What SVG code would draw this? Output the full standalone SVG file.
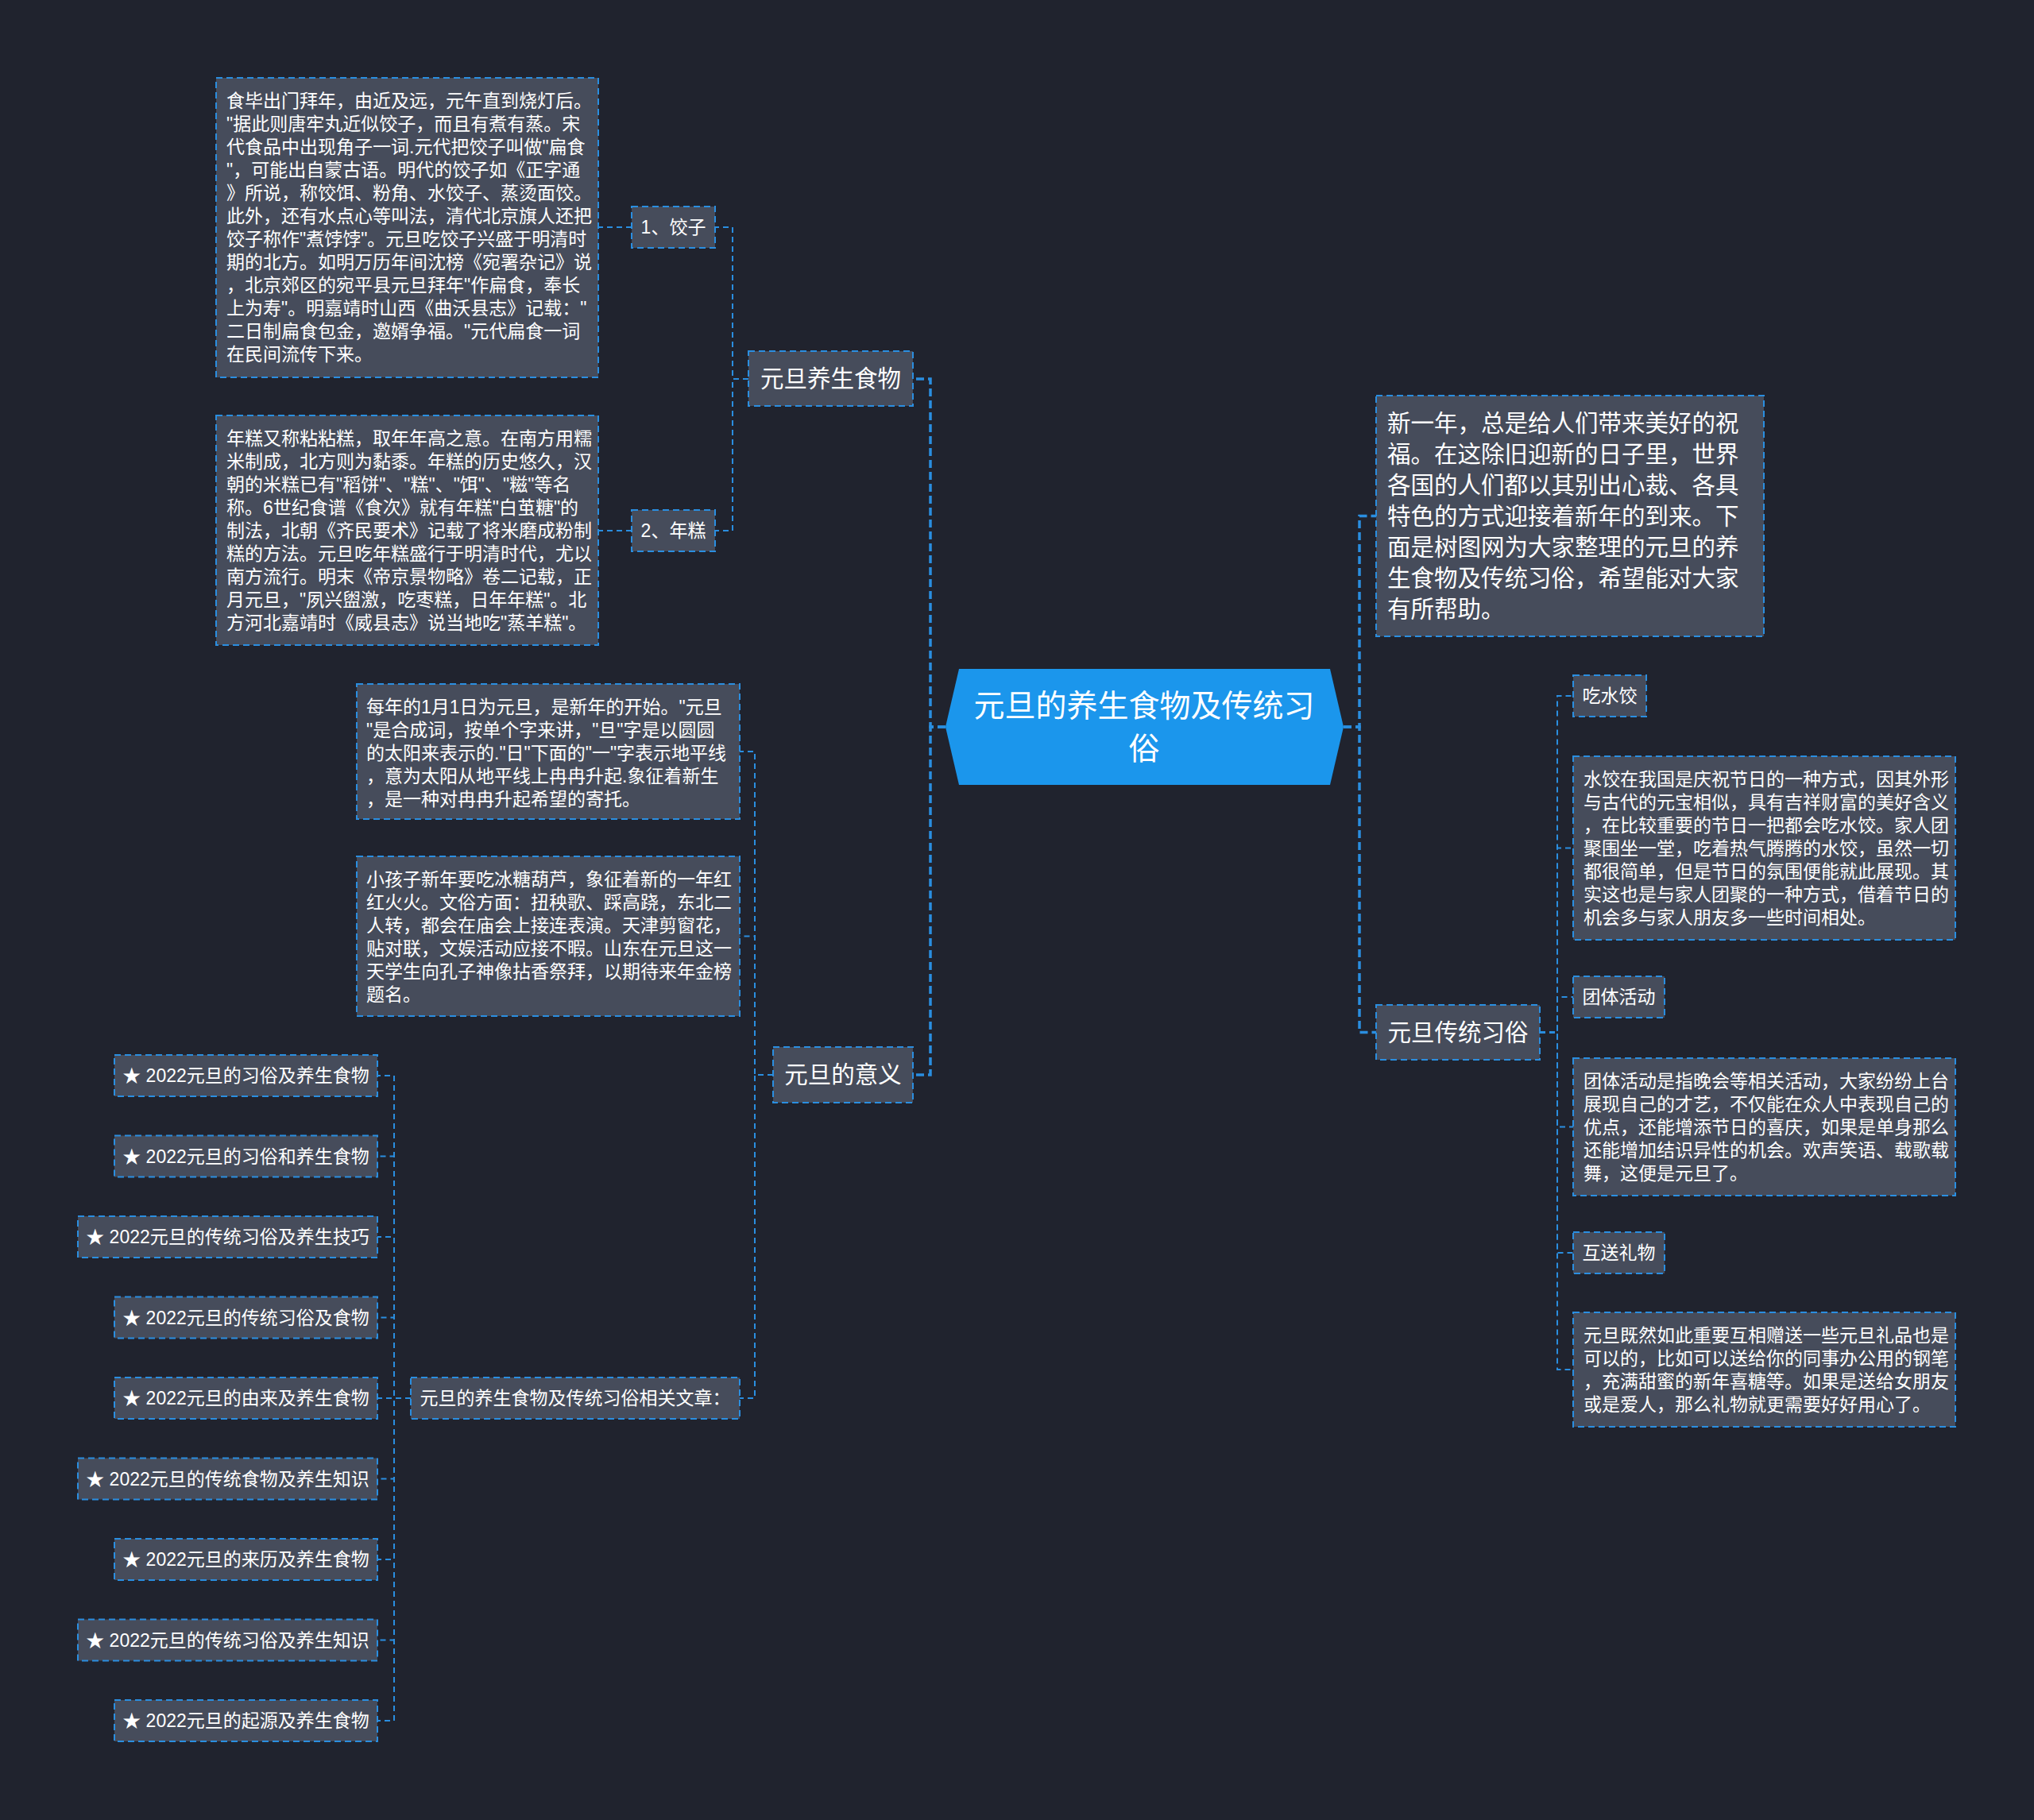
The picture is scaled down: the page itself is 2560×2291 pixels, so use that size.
<svg xmlns="http://www.w3.org/2000/svg" width="2560" height="2291" viewBox="0 0 2560 2291">
<defs>
<style>
.node{fill:#464c5b;stroke:#2a8ee0;stroke-width:2;stroke-dasharray:8 5}
.t{font-family:"Liberation Sans","Noto Sans CJK SC",sans-serif;fill:#ffffff}
.s22{font-size:23px}
.s29{font-size:29.5px}
.s38{font-size:39px}
.c{text-anchor:middle}
.main{fill:none;stroke:#2a8ee0;stroke-width:3.5;stroke-dasharray:10 5}
.sub{fill:none;stroke:#2a8ee0;stroke-width:2;stroke-dasharray:7 5}
</style>
</defs>
<rect x="0" y="0" width="2560" height="2291" fill="#20232e"/>

<g id="connectors">
<path class="main" d="M1190,915 H1171 V477 H1149"/>
<path class="main" d="M1190,915 H1171 V1353 H1149"/>
<path class="main" d="M1691,915 H1711 V649.5 H1732"/>
<path class="main" d="M1691,915 H1711 V1299.5 H1732"/>
<path class="sub" d="M942,477 H922 V286 H900"/>
<path class="sub" d="M942,477 H922 V668 H900"/>
<path class="sub" d="M795,286 H753"/>
<path class="sub" d="M795,668 H753"/>
<path class="sub" d="M973,1353 H950 V946 H931"/>
<path class="sub" d="M973,1353 H950 V1178.5 H931"/>
<path class="sub" d="M973,1353 H950 V1760 H931"/>
<path class="sub" d="M517,1760 H496 V1354 H475"/>
<path class="sub" d="M517,1760 H496 V1455.5 H475"/>
<path class="sub" d="M517,1760 H496 V1557 H475"/>
<path class="sub" d="M517,1760 H496 V1658.5 H475"/>
<path class="sub" d="M517,1760 H475"/>
<path class="sub" d="M517,1760 H496 V1861.5 H475"/>
<path class="sub" d="M517,1760 H496 V1963 H475"/>
<path class="sub" d="M517,1760 H496 V2064.5 H475"/>
<path class="sub" d="M517,1760 H496 V2166 H475"/>
<path class="sub" d="M1938,1299.5 H1960 V876 H1980"/>
<path class="sub" d="M1938,1299.5 H1960 V1067.5 H1980"/>
<path class="sub" d="M1938,1299.5 H1960 V1255 H1980"/>
<path class="sub" d="M1938,1299.5 H1960 V1418.5 H1980"/>
<path class="sub" d="M1938,1299.5 H1960 V1577 H1980"/>
<path class="sub" d="M1938,1299.5 H1960 V1724 H1980"/>
</g>

<g id="root">
<polygon points="1207,842 1674,842 1691,915 1674,988 1207,988 1190,915" fill="#1b96ec"/>
<text class="t s38 c" x="1440" y="902">元旦的养生食物及传统习</text>
<text class="t s38 c" x="1440" y="956">俗</text>
</g>

<g id="n-food">
<rect class="node" x="942" y="442" width="207" height="69"/>
<text class="t s29 c" x="1045.5" y="487">元旦养生食物</text>
</g>

<g id="n-jiaozi">
<rect class="node" x="795" y="260" width="105" height="52"/>
<text class="t s22 c" x="847.5" y="294">1、饺子</text>
</g>

<g id="n-jiaozi-text">
<rect class="node" x="272" y="98" width="481" height="377"/>
<text class="t s22">
<tspan x="285" y="135">食毕出门拜年，由近及远，元午直到烧灯后。</tspan>
<tspan x="285" y="164">"据此则唐牢丸近似饺子，而且有煮有蒸。宋</tspan>
<tspan x="285" y="193">代食品中出现角子一词.元代把饺子叫做"扁食</tspan>
<tspan x="285" y="222">"，可能出自蒙古语。明代的饺子如《正字通</tspan>
<tspan x="285" y="251">》所说，称饺饵、粉角、水饺子、蒸烫面饺。</tspan>
<tspan x="285" y="280">此外，还有水点心等叫法，清代北京旗人还把</tspan>
<tspan x="285" y="309">饺子称作"煮饽饽"。元旦吃饺子兴盛于明清时</tspan>
<tspan x="285" y="338">期的北方。如明万历年间沈榜《宛署杂记》说</tspan>
<tspan x="285" y="367">，北京郊区的宛平县元旦拜年"作扁食，奉长</tspan>
<tspan x="285" y="396">上为寿"。明嘉靖时山西《曲沃县志》记载："</tspan>
<tspan x="285" y="425">二日制扁食包金，邀婿争福。"元代扁食一词</tspan>
<tspan x="285" y="454">在民间流传下来。</tspan>
</text>
</g>

<g id="n-niangao">
<rect class="node" x="795" y="642" width="105" height="52"/>
<text class="t s22 c" x="847.5" y="676">2、年糕</text>
</g>

<g id="n-niangao-text">
<rect class="node" x="272" y="523" width="481" height="289"/>
<text class="t s22">
<tspan x="285" y="560">年糕又称粘粘糕，取年年高之意。在南方用糯</tspan>
<tspan x="285" y="589">米制成，北方则为黏黍。年糕的历史悠久，汉</tspan>
<tspan x="285" y="618">朝的米糕已有"稻饼"、"糕"、"饵"、"糍"等名</tspan>
<tspan x="285" y="647">称。6世纪食谱《食次》就有年糕"白茧糖"的</tspan>
<tspan x="285" y="676">制法，北朝《齐民要术》记载了将米磨成粉制</tspan>
<tspan x="285" y="705">糕的方法。元旦吃年糕盛行于明清时代，尤以</tspan>
<tspan x="285" y="734">南方流行。明末《帝京景物略》卷二记载，正</tspan>
<tspan x="285" y="763">月元旦，"夙兴盥激，吃枣糕，日年年糕"。北</tspan>
<tspan x="285" y="792">方河北嘉靖时《威县志》说当地吃"蒸羊糕"。</tspan>
</text>
</g>

<g id="n-meaning">
<rect class="node" x="973" y="1318" width="176" height="70"/>
<text class="t s29 c" x="1061" y="1363">元旦的意义</text>
</g>

<g id="n-meaning-1">
<rect class="node" x="449" y="861" width="482" height="170"/>
<text class="t s22">
<tspan x="461" y="898">每年的1月1日为元旦，是新年的开始。"元旦</tspan>
<tspan x="461" y="927">"是合成词，按单个字来讲，"旦"字是以圆圆</tspan>
<tspan x="461" y="956">的太阳来表示的."日"下面的"一"字表示地平线</tspan>
<tspan x="461" y="985">，意为太阳从地平线上冉冉升起.象征着新生</tspan>
<tspan x="461" y="1014">，是一种对冉冉升起希望的寄托。</tspan>
</text>
</g>

<g id="n-meaning-2">
<rect class="node" x="449" y="1078" width="482" height="201"/>
<text class="t s22">
<tspan x="461" y="1115">小孩子新年要吃冰糖葫芦，象征着新的一年红</tspan>
<tspan x="461" y="1144">红火火。文俗方面：扭秧歌、踩高跷，东北二</tspan>
<tspan x="461" y="1173">人转，都会在庙会上接连表演。天津剪窗花，</tspan>
<tspan x="461" y="1202">贴对联，文娱活动应接不暇。山东在元旦这一</tspan>
<tspan x="461" y="1231">天学生向孔子神像拈香祭拜，以期待来年金榜</tspan>
<tspan x="461" y="1260">题名。</tspan>
</text>
</g>

<g id="n-related">
<rect class="node" x="517" y="1734" width="414" height="52"/>
<text class="t s22 c" x="724" y="1768">元旦的养生食物及传统习俗相关文章：</text>
</g>

<g id="n-star-1"><rect class="node" x="144" y="1328" width="331" height="52"/><text class="t s22 c" x="309.5" y="1362">★ 2022元旦的习俗及养生食物</text></g>
<g id="n-star-2"><rect class="node" x="144" y="1429.5" width="331" height="52"/><text class="t s22 c" x="309.5" y="1463.5">★ 2022元旦的习俗和养生食物</text></g>
<g id="n-star-3"><rect class="node" x="98" y="1531" width="377" height="52"/><text class="t s22 c" x="286.5" y="1565">★ 2022元旦的传统习俗及养生技巧</text></g>
<g id="n-star-4"><rect class="node" x="144" y="1632.5" width="331" height="52"/><text class="t s22 c" x="309.5" y="1666.5">★ 2022元旦的传统习俗及食物</text></g>
<g id="n-star-5"><rect class="node" x="144" y="1734" width="331" height="52"/><text class="t s22 c" x="309.5" y="1768">★ 2022元旦的由来及养生食物</text></g>
<g id="n-star-6"><rect class="node" x="98" y="1835.5" width="377" height="52"/><text class="t s22 c" x="286.5" y="1869.5">★ 2022元旦的传统食物及养生知识</text></g>
<g id="n-star-7"><rect class="node" x="144" y="1937" width="331" height="52"/><text class="t s22 c" x="309.5" y="1971">★ 2022元旦的来历及养生食物</text></g>
<g id="n-star-8"><rect class="node" x="98" y="2038.5" width="377" height="52"/><text class="t s22 c" x="286.5" y="2072.5">★ 2022元旦的传统习俗及养生知识</text></g>
<g id="n-star-9"><rect class="node" x="144" y="2140" width="331" height="52"/><text class="t s22 c" x="309.5" y="2174">★ 2022元旦的起源及养生食物</text></g>

<g id="n-intro">
<rect class="node" x="1732" y="498" width="488" height="303"/>
<text class="t s29">
<tspan x="1746" y="543">新一年，总是给人们带来美好的祝</tspan>
<tspan x="1746" y="582">福。在这除旧迎新的日子里，世界</tspan>
<tspan x="1746" y="621">各国的人们都以其别出心裁、各具</tspan>
<tspan x="1746" y="660">特色的方式迎接着新年的到来。下</tspan>
<tspan x="1746" y="699">面是树图网为大家整理的元旦的养</tspan>
<tspan x="1746" y="738">生食物及传统习俗，希望能对大家</tspan>
<tspan x="1746" y="777">有所帮助。</tspan>
</text>
</g>

<g id="n-custom">
<rect class="node" x="1732" y="1265" width="206" height="69"/>
<text class="t s29 c" x="1835" y="1310">元旦传统习俗</text>
</g>

<g id="n-shuijiao">
<rect class="node" x="1980" y="850" width="92" height="52"/>
<text class="t s22 c" x="2026" y="884">吃水饺</text>
</g>

<g id="n-shuijiao-text">
<rect class="node" x="1980" y="952" width="481" height="231"/>
<text class="t s22">
<tspan x="1993" y="989">水饺在我国是庆祝节日的一种方式，因其外形</tspan>
<tspan x="1993" y="1018">与古代的元宝相似，具有吉祥财富的美好含义</tspan>
<tspan x="1993" y="1047">，在比较重要的节日一把都会吃水饺。家人团</tspan>
<tspan x="1993" y="1076">聚围坐一堂，吃着热气腾腾的水饺，虽然一切</tspan>
<tspan x="1993" y="1105">都很简单，但是节日的氛围便能就此展现。其</tspan>
<tspan x="1993" y="1134">实这也是与家人团聚的一种方式，借着节日的</tspan>
<tspan x="1993" y="1163">机会多与家人朋友多一些时间相处。</tspan>
</text>
</g>

<g id="n-group">
<rect class="node" x="1980" y="1229" width="115" height="52"/>
<text class="t s22 c" x="2037.5" y="1263">团体活动</text>
</g>

<g id="n-group-text">
<rect class="node" x="1980" y="1332" width="481" height="173"/>
<text class="t s22">
<tspan x="1993" y="1369">团体活动是指晚会等相关活动，大家纷纷上台</tspan>
<tspan x="1993" y="1398">展现自己的才艺，不仅能在众人中表现自己的</tspan>
<tspan x="1993" y="1427">优点，还能增添节日的喜庆，如果是单身那么</tspan>
<tspan x="1993" y="1456">还能增加结识异性的机会。欢声笑语、载歌载</tspan>
<tspan x="1993" y="1485">舞，这便是元旦了。</tspan>
</text>
</g>

<g id="n-gift">
<rect class="node" x="1980" y="1551" width="115" height="52"/>
<text class="t s22 c" x="2037.5" y="1585">互送礼物</text>
</g>

<g id="n-gift-text">
<rect class="node" x="1980" y="1652" width="481" height="144"/>
<text class="t s22">
<tspan x="1993" y="1689">元旦既然如此重要互相赠送一些元旦礼品也是</tspan>
<tspan x="1993" y="1718">可以的，比如可以送给你的同事办公用的钢笔</tspan>
<tspan x="1993" y="1747">，充满甜蜜的新年喜糖等。如果是送给女朋友</tspan>
<tspan x="1993" y="1776">或是爱人，那么礼物就更需要好好用心了。</tspan>
</text>
</g>
</svg>
